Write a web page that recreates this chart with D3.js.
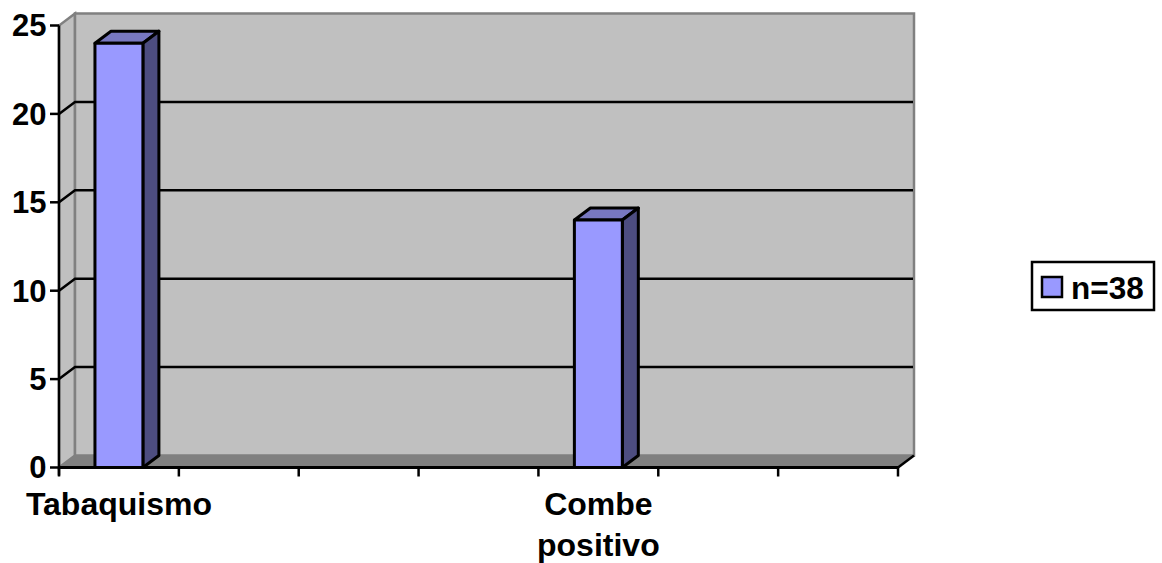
<!DOCTYPE html>
<html>
<head>
<meta charset="utf-8">
<script src="https://cdnjs.cloudflare.com/ajax/libs/d3/7.8.5/d3.min.js"></script>
<style>
  html, body { margin: 0; padding: 0; background: #fff; }
  svg { display: block; }
  text { font-family: "Liberation Sans", Arial, sans-serif; font-weight: bold; fill: #000; }
</style>
</head>
<body>
<svg id="chart" width="1162" height="563"></svg>
<script>
const categories = ["Tabaquismo", "", "", "", "Combe\npositivo", "", ""];
const seriesValues = [24, null, null, null, 14, null, null];
const seriesName = "n=38";
const yTicks = [0, 5, 10, 15, 20, 25];

const svg = d3.select("#chart");
const depthX = 16, depthY = -12;

const x = d3.scaleBand().domain(d3.range(categories.length)).range([59, 898]);
const y = d3.scaleLinear().domain([0, 25]).range([467.5, 25.5]);
const barWidth = x.bandwidth() * 0.4;

const poly = pts => pts.map(p => p.join(",")).join(" ");
const [x0, x1] = x.range();
const [y0, yTop] = y.range();

// Left side wall, floor and back wall of the 3D box
svg.append("polygon")
  .attr("points", poly([[x0, y0], [x0 + depthX, y0 + depthY], [x0 + depthX, yTop + depthY], [x0, yTop]]))
  .attr("fill", "#c0c0c0").attr("stroke", "#808080").attr("stroke-width", 2.5);
svg.append("polygon")
  .attr("points", poly([[x0 + depthX, yTop + depthY], [x1 + depthX, yTop + depthY], [x1 + depthX, y0 + depthY], [x0 + depthX, y0 + depthY]]))
  .attr("fill", "#c0c0c0").attr("stroke", "#808080").attr("stroke-width", 2.5);
svg.append("polygon")
  .attr("points", poly([[x0, y0], [x1, y0], [x1 + depthX, y0 + depthY], [x0 + depthX, y0 + depthY]]))
  .attr("fill", "#808080").attr("stroke", "#808080").attr("stroke-width", 1);

// Gridlines: a diagonal on the side wall, then across the back wall
const gridTicks = yTicks.filter(t => t > 0 && t < 25);
svg.append("g").selectAll("path").data(gridTicks).join("path")
  .attr("d", t => `M${x0},${y(t)}L${x0 + depthX},${y(t) + depthY}L${x1 + depthX - 1},${y(t) + depthY}`)
  .attr("fill", "none").attr("stroke", "#000").attr("stroke-width", 2.5);

// Bars with front, top and right faces
const bars = svg.append("g").selectAll("g")
  .data(seriesValues.map((v, i) => ({ v, i })).filter(d => d.v !== null))
  .join("g")
  .attr("stroke", "#000").attr("stroke-width", 3).attr("stroke-linejoin", "round");

const left = d => x(d.i) + (x.bandwidth() - barWidth) / 2;
bars.append("polygon").attr("fill", "#7878c0")
  .attr("points", d => poly([[left(d), y(d.v)], [left(d) + depthX, y(d.v) + depthY], [left(d) + barWidth + depthX, y(d.v) + depthY], [left(d) + barWidth, y(d.v)]]));
bars.append("polygon").attr("fill", "#4d4d80")
  .attr("points", d => poly([[left(d) + barWidth, y(d.v)], [left(d) + barWidth + depthX, y(d.v) + depthY], [left(d) + barWidth + depthX, y0 + depthY], [left(d) + barWidth, y0]]));
bars.append("rect").attr("fill", "#9999ff")
  .attr("x", left).attr("y", d => y(d.v))
  .attr("width", barWidth).attr("height", d => y0 - y(d.v));

// Value axis
const yAxis = svg.append("g");
yAxis.append("line").attr("x1", x0).attr("x2", x0).attr("y1", yTop).attr("y2", y0 + 8)
  .attr("stroke", "#000").attr("stroke-width", 2.5);
yAxis.selectAll("line.tick").data(yTicks).join("line").attr("class", "tick")
  .attr("x1", x0 - 9).attr("x2", x0).attr("y1", y).attr("y2", y)
  .attr("stroke", "#000").attr("stroke-width", 2.5);
yAxis.selectAll("text").data(yTicks).join("text")
  .attr("x", 46.5).attr("y", y).attr("dy", "0.35em")
  .attr("text-anchor", "end").attr("font-size", 31).text(d => d);

// Category axis
const xAxis = svg.append("g");
const boundaries = d3.range(categories.length + 1).map(i => x0 + i * x.step());
xAxis.append("line").attr("x1", x0).attr("x2", x1).attr("y1", y0).attr("y2", y0)
  .attr("stroke", "#000").attr("stroke-width", 3);
xAxis.append("line").attr("x1", x1).attr("x2", x1 + depthX).attr("y1", y0).attr("y2", y0 + depthY)
  .attr("stroke", "#000").attr("stroke-width", 2.5);
xAxis.selectAll("line.tick").data(boundaries).join("line").attr("class", "tick")
  .attr("x1", d => d).attr("x2", d => d).attr("y1", y0).attr("y2", y0 + 9)
  .attr("stroke", "#000").attr("stroke-width", 2.5);
const labels = xAxis.selectAll("text").data(categories).join("text")
  .attr("text-anchor", "middle").attr("font-size", 32);
labels.selectAll("tspan").data((d, i) => d ? d.split("\n").map(s => ({ s, i })) : []).join("tspan")
  .attr("x", d => x(d.i) + x.bandwidth() / 2)
  .attr("y", (d, k) => 515 + k * 41)
  .text(d => d.s);

// Legend
const legend = svg.append("g");
legend.append("rect").attr("x", 1032).attr("y", 262).attr("width", 122).attr("height", 48)
  .attr("fill", "#fff").attr("stroke", "#000").attr("stroke-width", 2.5);
legend.append("rect").attr("x", 1042).attr("y", 277).attr("width", 20).attr("height", 20)
  .attr("fill", "#9999ff").attr("stroke", "#000").attr("stroke-width", 2.5);
legend.append("text").attr("x", 1071).attr("y", 299).attr("font-size", 31.5).text(seriesName);
</script>
</body>
</html>
